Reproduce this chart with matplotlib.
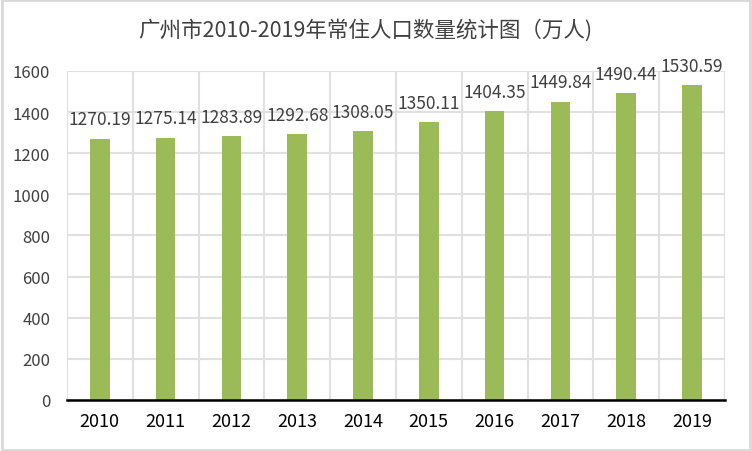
import matplotlib
matplotlib.use("Agg")
import matplotlib.pyplot as plt
from matplotlib.patches import Rectangle

plt.rcParams['font.family'] = ['Noto Sans CJK SC', 'DejaVu Sans']

years = ['2010', '2011', '2012', '2013', '2014', '2015', '2016', '2017', '2018', '2019']
population = [1270.19, 1275.14, 1283.89, 1292.68, 1308.05, 1350.11, 1404.35, 1449.84, 1490.44, 1530.59]

fig = plt.figure(figsize=(7.52, 4.52), dpi=100)
ax = fig.add_axes([0.089, 0.113, 0.875, 0.728])

x = list(range(len(years)))
ax.bar(x, population, width=0.3, color='#9BBB59', zorder=3)

for xi, v in zip(x, population):
    ax.text(xi, v + 50, f'{v:.2f}', ha='center', va='bottom', fontsize=12.5, color='#404040')

ax.set_xlim(-0.5, len(years) - 0.5)
ax.set_ylim(0, 1600)
ax.set_yticks(range(0, 1601, 200))
ax.set_xticks(x)
ax.set_xticklabels(years)

# vertical grid between categories
ax.set_xticks([i - 0.5 for i in range(len(years) + 1)], minor=True)
ax.grid(axis='x', which='minor', color='#E0E0E0', linewidth=1.5, zorder=0)
ax.grid(axis='y', which='major', color='#E0E0E0', linewidth=1.5, zorder=0)

for s in ['top', 'right', 'left']:
    ax.spines[s].set_visible(False)
ax.spines['bottom'].set_color('black')
ax.spines['bottom'].set_linewidth(1.8)
ax.spines['bottom'].set_zorder(4)

ax.tick_params(axis='both', which='both', length=0)
ax.tick_params(axis='y', labelsize=12, labelcolor='#404040', pad=12)
ax.tick_params(axis='x', labelsize=13, labelcolor='black', pad=9)

fig.text(0.485, 0.933, '广州市2010-2019年常住人口数量统计图（万人)', ha='center', va='center',
         fontsize=15.5, color='#404040')

fig.patches.append(Rectangle((0.002, 0.003), 0.996, 0.994, transform=fig.transFigure,
                             fill=False, edgecolor='#D9D9D9', linewidth=2))

fig.savefig('out.png', dpi=100)
